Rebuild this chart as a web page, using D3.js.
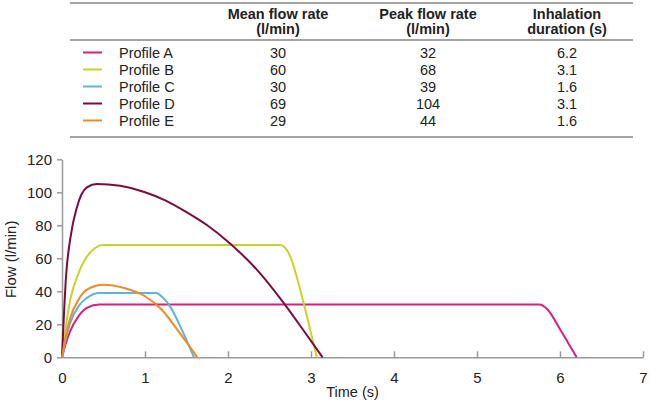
<!DOCTYPE html>
<html>
<head>
<meta charset="utf-8">
<script src="https://cdn.jsdelivr.net/npm/d3@7"></script>
<style>
  body { margin: 0; background: #fff; }
  text { font-family: "Liberation Sans", Arial, sans-serif; fill: #222; }
</style>
</head>
<body>
<div id="chart"></div>
<script>
// table values
var profiles = ["Profile A", "Profile B", "Profile C", "Profile D", "Profile E"];
var meanFlow = [30, 60, 30, 69, 29];
var peakFlow = [32, 68, 39, 104, 44];
var duration = ["6.2", "3.1", "1.6", "3.1", "1.6"];
var headers = [["Mean flow rate", "(l/min)"], ["Peak flow rate", "(l/min)"], ["Inhalation", "duration (s)"]];

// flow curves (time in s, flow in l/min)
var timeA = [0, 0.05, 0.1, 0.2, 0.3, 0.45, 5.75, 5.85, 6.0, 6.2];
var flowA = [0, 9, 16, 25, 30, 32, 32, 29, 17, 0];
var timeB = [0, 0.05, 0.1, 0.2, 0.3, 0.5, 2.63, 2.75, 2.87, 2.95, 3.07];
var flowB = [0, 20, 35, 51, 61, 68, 68, 61, 41, 25, 0];
var timeC = [0, 0.05, 0.1, 0.2, 0.3, 0.45, 1.13, 1.22, 1.3, 1.45, 1.59];
var flowC = [0, 12, 21, 31, 36, 39, 39, 36, 31, 16, 0];
var timeD = [0, 0.05, 0.1, 0.18, 0.3, 0.42, 0.7, 1.0, 1.25, 1.5, 1.75, 2.0, 2.35, 2.67, 2.9, 3.14];
var flowD = [0, 50, 72, 91, 103, 105, 104, 100, 95, 88, 80, 70, 53, 33, 17, 0];
var timeE = [0, 0.05, 0.1, 0.2, 0.3, 0.5, 0.75, 1.0, 1.2, 1.4, 1.63];
var flowE = [0, 14, 24, 35, 41, 44, 42, 37, 29, 16, 0];

var xTicks = [0, 1, 2, 3, 4, 5, 6, 7];
var yTicks = [0, 20, 40, 60, 80, 100, 120];

var colors = ["#d6207a", "#c8d32a", "#5cb5d6", "#7a0b3d", "#ef8a25"];

var w = 650, h = 403;
var svg = d3.select("#chart").append("svg")
    .attr("width", w)
    .attr("height", h);

// ---- table ----
var tableLeft = 70, tableRight = 633;
var colX = [278, 428, 567];
var rowY = [57.5, 74.5, 91.5, 108.5, 125.5];
var rule = "#a3a3a3";

[3, 40, 137].forEach(function(y) {
  svg.append("line")
    .attr("x1", tableLeft).attr("x2", tableRight)
    .attr("y1", y).attr("y2", y)
    .attr("stroke", rule).attr("stroke-width", 2);
});

headers.forEach(function(hd, j) {
  hd.forEach(function(s, k) {
    svg.append("text")
      .attr("x", colX[j]).attr("y", 19 + k * 15)
      .attr("text-anchor", "middle")
      .attr("font-size", 14.5)
      .attr("font-weight", "bold")
      .text(s);
  });
});

profiles.forEach(function(p, i) {
  var y = rowY[i];
  svg.append("line")
    .attr("x1", 83).attr("x2", 102)
    .attr("y1", y - 5).attr("y2", y - 5)
    .attr("stroke", colors[i]).attr("stroke-width", 2);
  svg.append("text").attr("x", 119).attr("y", y)
    .attr("font-size", 14.5).text(p);
  [meanFlow[i], peakFlow[i], duration[i]].forEach(function(v, j) {
    svg.append("text").attr("x", colX[j]).attr("y", y)
      .attr("text-anchor", "middle")
      .attr("font-size", 14.5).text(v);
  });
});

// ---- chart ----
var x = d3.scaleLinear().domain([0, 7]).range([62, 643]);
var y = d3.scaleLinear().domain([0, 120]).range([357.3, 159.3]);
var axisColor = "#9a9a9a";

var gx = svg.append("g")
    .attr("transform", "translate(0," + y(0) + ")")
    .call(d3.axisBottom(x).tickValues(xTicks).tickFormat(d3.format("d"))
      .tickSize(-6).tickPadding(15).tickSizeOuter(0));
var gy = svg.append("g")
    .attr("transform", "translate(" + x(0) + ",0)")
    .call(d3.axisLeft(y).tickValues(yTicks).tickSize(5).tickPadding(5).tickSizeOuter(0));

[gx, gy].forEach(function(g) {
  g.select(".domain").attr("stroke", axisColor).attr("stroke-width", 1.5);
  g.selectAll(".tick line").attr("stroke", axisColor).attr("stroke-width", 1.5);
  g.selectAll(".tick text").attr("font-size", 15).attr("font-family", null).attr("fill", "#222");
});

svg.append("text")
  .attr("transform", "translate(16," + (y(60) + 1) + ") rotate(-90)")
  .attr("text-anchor", "middle")
  .attr("font-size", 15)
  .text("Flow (l/min)");

svg.append("text")
  .attr("x", (x(0) + x(7)) / 2).attr("y", 397)
  .attr("text-anchor", "middle")
  .attr("font-size", 14.5)
  .text("Time (s)");

var series = [[timeA, flowA], [timeB, flowB], [timeC, flowC], [timeD, flowD], [timeE, flowE]];
var line = d3.line()
    .x(function(d) { return x(d[0]); })
    .y(function(d) { return y(d[1]); })
    .curve(d3.curveMonotoneX);

series.forEach(function(s, i) {
  var pts = s[0].map(function(t, k) { return [t, s[1][k]]; });
  svg.append("path")
    .attr("d", line(pts))
    .attr("fill", "none")
    .attr("stroke", colors[i])
    .attr("stroke-width", 2);
});
</script>
</body>
</html>
